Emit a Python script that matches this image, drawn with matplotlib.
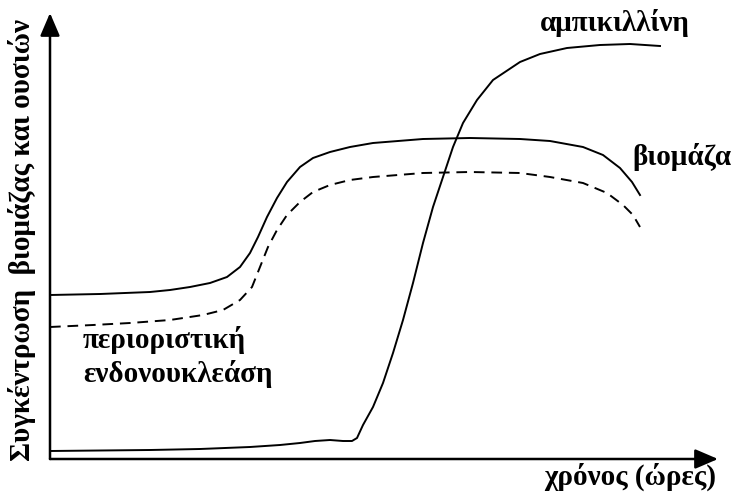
import matplotlib
matplotlib.use("Agg")
import matplotlib.pyplot as plt

# time axis and concentration readings for each curve (arbitrary units)
biomass_t = [0, 50, 100, 120, 140, 160, 177, 190, 200, 208, 217, 227, 237, 250, 263, 280,
             300, 323, 373, 420, 470, 500, 533, 553, 570, 582, 590]
biomass_c = [164, 165, 167, 169, 172, 176, 182, 192, 206, 222, 242, 261, 277, 292, 301, 307,
             312, 316, 320, 321, 320, 318, 312, 304, 291, 277, 264]

endo_t = [0, 43, 80, 120, 153, 173, 190, 202, 210, 218, 227, 237, 250, 263, 280, 300,
          323, 373, 420, 470, 500, 533, 557, 573, 583, 590]
endo_c = [132, 134, 136, 139, 144, 149, 159, 172, 192, 212, 229, 244, 257, 267, 274, 279,
          282, 286, 287, 286, 282, 276, 266, 254, 244, 232]

ampi_t = [0, 50, 100, 150, 200, 230, 250, 265, 280, 293, 302, 307, 313, 323, 333, 343,
          353, 363, 373, 383, 393, 403, 413, 427, 443, 470, 490, 517, 550, 580, 610]
ampi_c = [8, 8.5, 9, 10, 12, 14, 16, 18, 19, 18, 18, 21, 34, 52, 76, 106,
          139, 176, 216, 252, 282, 312, 336, 359, 379, 397, 405, 411, 414, 415, 413]

# free-text labels of the sketch
ampi_label = "αμπικιλλίνη"
biomass_label = "βιομάζα"
endo_label = ["περιοριστική", "ενδονουκλεάση"]
x_label = "χρόνος (ώρες)"
y_label = "Συγκέντρωση  βιομάζας και ουσιών"

plt.rcParams["font.family"] = ["Liberation Serif", "DejaVu Serif"]

fig = plt.figure(figsize=(7.34, 4.94), dpi=100)
ax = fig.add_axes([0, 0, 1, 1])
ax.set_xlim(-50, 684)
ax.set_ylim(-35, 459)
ax.axis("off")

# axes drawn as arrows from the origin
arrow = dict(arrowstyle="-|>,head_length=0.7,head_width=0.3", lw=1.8,
             color="black", mutation_scale=20, shrinkA=0, shrinkB=0)
ax.annotate("", xy=(668, 0), xytext=(0, 0), arrowprops=arrow)
ax.annotate("", xy=(0, 446), xytext=(0, 0), arrowprops=arrow)

ax.plot(biomass_t, biomass_c, color="black", lw=1.4, solid_joinstyle="round")
ax.plot(endo_t, endo_c, color="black", lw=1.4, dashes=(5.5, 3.5))
ax.plot(ampi_t, ampi_c, color="black", lw=1.4, solid_joinstyle="round")

txt = dict(fontsize=21, fontweight="bold", color="black")
ax.text(565, 428, ampi_label, ha="center", va="baseline", **txt)
ax.text(632, 294, biomass_label, ha="center", va="baseline", **txt)
ax.text(33, 111, endo_label[0], ha="left", va="baseline", **txt)
ax.text(33, 77, endo_label[1], ha="left", va="baseline", **txt)
ax.text(580, -26, x_label, ha="center", va="baseline", **txt)
ax.text(-28, 219, y_label, ha="center", va="center", rotation=90, **txt)

fig.savefig("out.png", dpi=100)
